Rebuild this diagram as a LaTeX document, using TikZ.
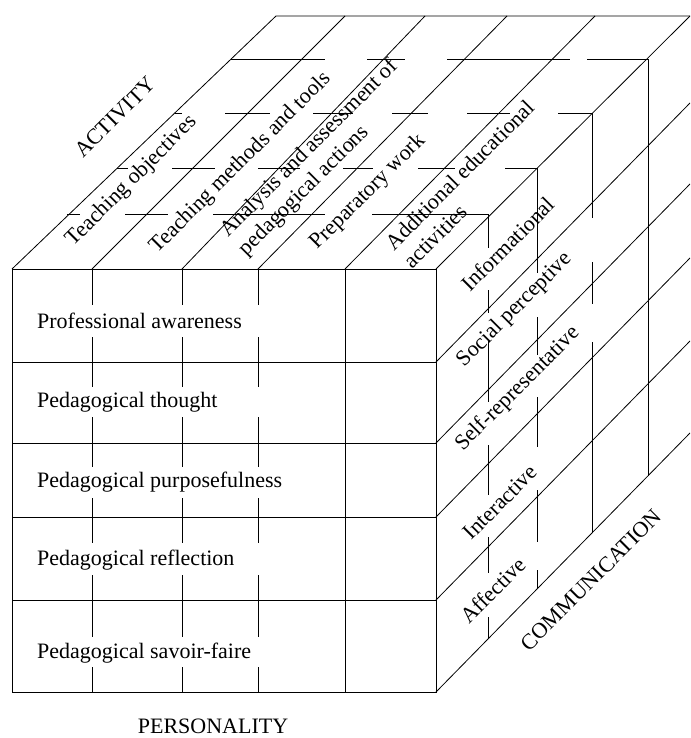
\documentclass[tikz,border=0pt]{standalone}
\usepackage{fontspec}
\setmainfont{Liberation Serif}

\tikzset{every picture/.style={line width=0.8pt}}
\tikzset{
  lbl/.style={font=\fontsize{22}{26}\selectfont, inner sep=0.75pt},
  hidden/.style={draw=black},
}

\begin{document}
\begin{tikzpicture}[x=1pt,y=1pt,yscale=-1,xscale=1]
\useasboundingbox (0,0) rectangle (690,738);
\clip (0,0) rectangle (690,738);

%Front face
\draw (12,269) rectangle (436,692);
\foreach \y in {362,443,517,600}
  \draw (12,\y) -- (436,\y);
\draw (345,269) -- (345,692);
%Front columns, broken at the text of each row
\foreach \x in {92,182,258}
  \draw (\x,269) -- (\x,305) (\x,337) -- (\x,387) (\x,417) -- (\x,467)
        (\x,498) -- (\x,543) (\x,575) -- (\x,637) (\x,667) -- (\x,692);

%Top face
\draw (12,269) -- (276,16) -- (690,16);
\draw (92,269) -- (345,16);
\draw (182,269) -- (425,16);
\draw (258,269) -- (507,16);
\draw (345,269) -- (595,16);
\draw (436,269) -- (690,16);

%Right face
\foreach \y in {362,443,517,600,692}
  \draw (436,\y) -- ++(254,-259);

%Hidden layers: top part
\foreach \a/\b in {67/80,125/168,213/325,372/488}
  \draw [hidden] (\a,214) -- (\b,214);
\foreach \a/\b in {117/128,172/215,258/300,343/373,418/455,505/537}
  \draw [hidden] (\a,168) -- (\b,168);
\foreach \a/\b in {175/182,225/270,313/353,392/428,467/510,558/592}
  \draw [hidden] (\a,113) -- (\b,113);
\foreach \a/\b in {231/325,367/405,447/570,587/648}
  \draw [hidden] (\a,59) -- (\b,59);
%Hidden layers: right part
\foreach \a/\b in {214/248,290/313,340/402,445/495,537/573,617/639}
  \draw [hidden] (488,\a) -- (488,\b);
\foreach \a/\b in {168/273,317/355,397/447,490/542,570/589}
  \draw [hidden] (537,\a) -- (537,\b);
\foreach \a/\b in {113/218,262/304,342/533}
  \draw [hidden] (592,\a) -- (592,\b);
\draw [hidden] (648,59) -- (648,476);

% Text Node
\draw (36,328) node [lbl, anchor=base west] (awareness) {Professional awareness};
% Text Node
\draw (36,407) node [lbl, anchor=base west] (thought) {Pedagogical thought};
% Text Node
\draw (36,487) node [lbl, anchor=base west] (purpose) {Pedagogical purposefulness};
% Text Node
\draw (36,565) node [lbl, anchor=base west] (reflection) {Pedagogical reflection};
% Text Node
\draw (36,658) node [lbl, anchor=base west] (savoir) {Pedagogical savoir-faire};
% Text Node
\draw (213,726) node [lbl] (personality) {PERSONALITY};

% Text Node
\draw (115,117) node [lbl, rotate=45] (activity) {ACTIVITY};
% Text Node
\draw (132,181) node [lbl, rotate=45] (objectives) {Teaching objectives};
% Text Node
\draw (241,163) node [lbl, rotate=45] (methods) {Teaching methods and tools};
% Text Node
\draw (319,158) node [lbl, rotate=45, align=left] (analysis) {Analysis and assessment of\\pedagogical actions};
% Text Node
\draw (368,192) node [lbl, rotate=45] (preparatory) {Preparatory work};
% Text Node
\draw (469,184) node [lbl, rotate=45, align=left] (additional) {Additional educational\\activities};

% Text Node
\draw (508,244) node [lbl, rotate=45] (informational) {Informational};
% Text Node
\draw (515,310) node [lbl, rotate=45] (social) {Social perceptive};
% Text Node
\draw (518,389) node [lbl, rotate=45] (self) {Self-representative};
% Text Node
\draw (500,502) node [lbl, rotate=45] (interactive) {Interactive};
% Text Node
\draw (493,590) node [lbl, rotate=45] (affective) {Affective};
% Text Node
\draw (591,580) node [lbl, rotate=45] (communication) {COMMUNICATION};
\end{tikzpicture}
\end{document}
